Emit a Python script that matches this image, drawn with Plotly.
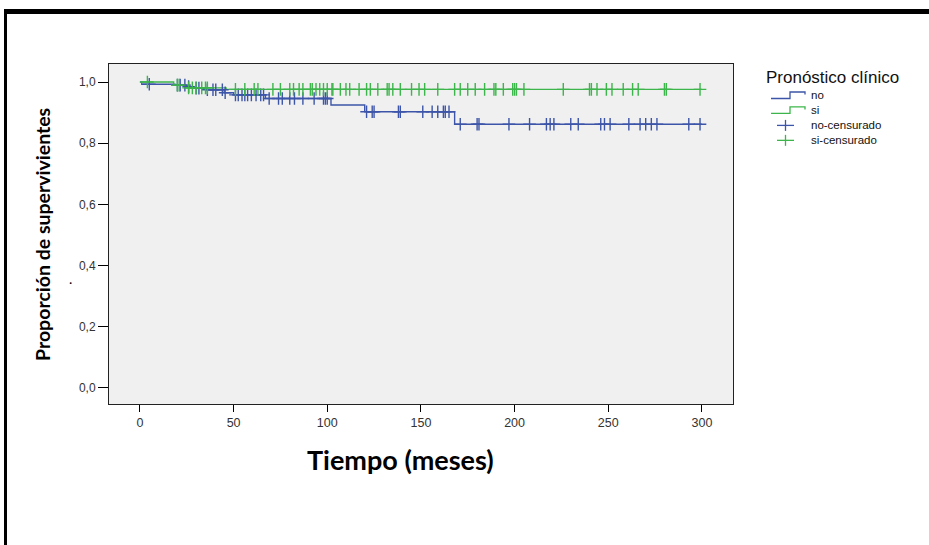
import plotly.graph_objects as go

# ---- data ----
# Kaplan-Meier step functions: event times and survival after each step
no_times = [0, 1, 18.7, 25, 28, 36, 45, 50, 67, 102, 120, 168, 300]
no_surv = [1.0, 0.993, 0.990, 0.985, 0.980, 0.975, 0.965, 0.958, 0.946, 0.925, 0.903, 0.862, 0.862]

si_times = [0, 18, 24, 46, 300]
si_surv = [1.0, 0.990, 0.981, 0.976, 0.976]

no_cens = [5, 20, 21.5, 24, 26, 30, 31.5, 36, 39, 40.5, 44, 45.5, 51, 52.5, 54.5, 56, 57.5,
           59.5, 62, 64.5, 66, 69, 74, 76, 80, 82.5, 87, 93, 98, 99, 100, 121, 124, 125, 138,
           139, 151, 156, 159, 162, 163, 165, 171, 180, 181, 197, 208, 217, 219, 221, 230,
           234, 246, 248, 251, 261, 267, 270, 273, 276, 293, 299]
si_cens = [4, 20, 21, 26, 28, 30, 33, 35, 36, 51, 56, 61, 63, 71, 75, 80, 82, 85, 87, 91, 92,
           94, 96, 98, 100, 102.5, 103, 107, 110, 112, 117, 121, 123, 127, 132, 133, 135, 139,
           145, 149, 152, 159, 168, 171, 175, 179, 184, 189, 190, 194, 199, 200, 201, 205,
           226, 240, 241, 244, 249, 252, 258, 263, 266, 280, 281, 299]

x_ticks = [0, 50, 100, 150, 200, 250, 300]
y_ticks = [0.0, 0.2, 0.4, 0.6, 0.8, 1.0]

legend_title = "Pronóstico clínico"
legend_labels = ["no", "si", "no-censurado", "si-censurado"]

BLUE = "#3d55a8"
GREEN = "#3cb54a"


def step_value(times, surv, t):
    v = surv[0]
    for ti, si in zip(times, surv):
        if ti <= t:
            v = si
    return v


fig = go.Figure()
fig.add_trace(go.Scatter(x=no_times, y=no_surv, mode="lines", line_shape="hv",
                         line=dict(color=BLUE, width=1.4), name="no", showlegend=False))
fig.add_trace(go.Scatter(x=si_times, y=si_surv, mode="lines", line_shape="hv",
                         line=dict(color=GREEN, width=1.4), name="si", showlegend=False))
fig.add_trace(go.Scatter(x=no_cens, y=[step_value(no_times, no_surv, t) for t in no_cens],
                         mode="markers", name="no-censurado", showlegend=False,
                         marker=dict(symbol="cross-thin", size=9, color=BLUE,
                                     line=dict(color=BLUE, width=1.4))))
fig.add_trace(go.Scatter(x=si_cens, y=[step_value(si_times, si_surv, t) for t in si_cens],
                         mode="markers", name="si-censurado", showlegend=False,
                         marker=dict(symbol="cross-thin", size=9, color=GREEN,
                                     line=dict(color=GREEN, width=1.4))))

# ---- pixel helpers (figure placed at page origin) ----
L, R, T, B = 109, 196, 64, 141
W, H = 929, 545
pw, ph = W - L - R, H - T - B


def px_x(x):
    return (x - L) / pw


def px_y(y):
    return (H - B - y) / ph


shapes = []
# outer thick black frame (top and left edges visible)
shapes.append(dict(type="rect", xref="paper", yref="paper", x0=px_x(4), x1=px_x(935),
                   y0=px_y(14), y1=px_y(9), fillcolor="black", line_width=0, layer="above"))
shapes.append(dict(type="rect", xref="paper", yref="paper", x0=px_x(4), x1=px_x(7),
                   y0=px_y(550), y1=px_y(9), fillcolor="black", line_width=0, layer="above"))

# custom legend (SPSS style)
FS = 11.5
row_h = FS * 1.3
y0_row = 95.5
rows_y = [y0_row + i * row_h for i in range(4)]

annotations = []
annotations.append(dict(text=legend_title, xref="paper", yref="paper", x=px_x(764), y=px_y(78),
                        xanchor="left", yanchor="middle", showarrow=False,
                        font=dict(size=17, color="#111", family="Liberation Sans, Arial")))
for col, yc in zip([BLUE, GREEN], rows_y[:2]):
    ylo, yhi = yc + 3, yc - 3.5
    shapes.append(dict(type="path", xref="paper", yref="paper",
                       path=f"M {px_x(771)} {px_y(ylo)} L {px_x(790)} {px_y(ylo)} "
                            f"L {px_x(790)} {px_y(yhi)} L {px_x(805)} {px_y(yhi)} "
                            f"L {px_x(805)} {px_y(yhi + 2.5)}",
                       line=dict(color=col, width=1.3)))
for col, yc in zip([BLUE, GREEN], rows_y[2:]):
    shapes.append(dict(type="line", xref="paper", yref="paper", x0=px_x(777), x1=px_x(794),
                       y0=px_y(yc), y1=px_y(yc), line=dict(color=col, width=1.3)))
    shapes.append(dict(type="line", xref="paper", yref="paper", x0=px_x(785.5), x1=px_x(785.5),
                       y0=px_y(yc - 5.5), y1=px_y(yc + 5.5), line=dict(color=col, width=1.3)))
annotations.append(dict(text="<br>".join(legend_labels), xref="paper", yref="paper",
                        x=px_x(810), y=px_y((rows_y[0] + rows_y[-1]) / 2),
                        xanchor="left", yanchor="middle", align="left", showarrow=False,
                        borderpad=0,
                        font=dict(size=FS, color="#111", family="Liberation Sans, Arial")))

# axis titles
annotations.append(dict(text="<b>Proporción de supervivientes</b>", xref="paper", yref="paper",
                        x=px_x(42), y=px_y(235), textangle=-90, showarrow=False,
                        xanchor="center", yanchor="middle",
                        font=dict(size=19.5, family="Lato, Open Sans", color="black")))
annotations.append(dict(text=".", xref="paper", yref="paper", x=px_x(67), y=px_y(278),
                        showarrow=False, font=dict(size=14, color="black", family="Lato")))
annotations.append(dict(text="<b>Tiempo (meses)</b>", xref="paper", yref="paper",
                        x=px_x(400), y=px_y(459), showarrow=False,
                        xanchor="center", yanchor="middle",
                        font=dict(size=27, family="Lato, Open Sans", color="black")))

fig.update_layout(
    width=W, height=H,
    margin=dict(l=L, r=R, t=T, b=B),
    paper_bgcolor="white", plot_bgcolor="#f0f0f0",
    separators=",.",
    showlegend=False,
    font=dict(family="Liberation Sans, Arial", color="#222"),
    shapes=shapes, annotations=annotations,
    xaxis=dict(range=[-16.5, 316.6], tickvals=x_ticks, ticks="outside", ticklen=7,
               tickcolor="black", showline=True, linecolor="#222", mirror=True,
               showgrid=False, zeroline=False, tickfont=dict(size=12.5, color="#333")),
    yaxis=dict(range=[-0.053, 1.059], tickvals=y_ticks, tickformat=".1f", ticks="outside",
               ticklen=10, tickcolor="black", showline=True, linecolor="#222", mirror=True,
               showgrid=False, zeroline=False, tickfont=dict(size=12, color="#333")),
)

fig.write_html("out.html", post_script="document.body.style.margin='0';",
               config={"displayModeBar": False})
